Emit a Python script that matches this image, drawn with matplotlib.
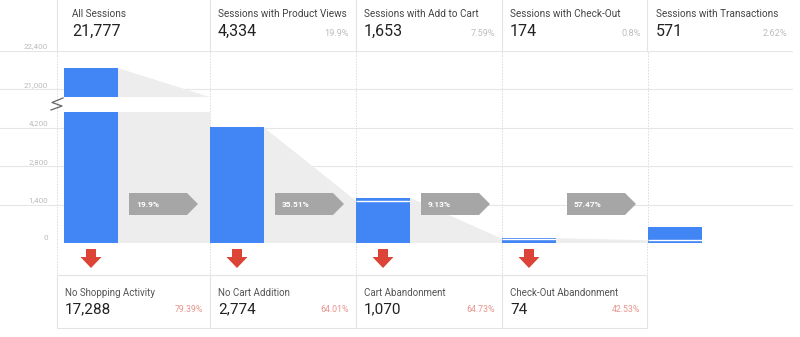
import numpy as np
import matplotlib
matplotlib.use('Agg')
import matplotlib.pyplot as plt
from matplotlib.patches import Polygon, Rectangle
from matplotlib.ticker import FixedLocator, FixedFormatter
import matplotlib.transforms as mtransforms

plt.rcParams['font.family'] = ['Roboto', 'DejaVu Sans']

# ---------------- data ----------------
steps = ["All Sessions", "Sessions with Product Views", "Sessions with Add to Cart",
         "Sessions with Check-Out", "Sessions with Transactions"]
step_values = [21777, 4334, 1653, 174, 571]
step_labels = ["21,777", "4,334", "1,653", "174", "571"]
step_pcts = ["", "19.9%", "7.59%", "0.8%", "2.62%"]
continued = [21777, 4334, 1539, 151, 100]
conv_rates = ["19.9%", "35.51%", "9.13%", "57.47%"]
drop_names = ["No Shopping Activity", "No Cart Addition", "Cart Abandonment", "Check-Out Abandonment"]
drop_values = ["17,288", "2,774", "1,070", "74"]
drop_pcts = ["79.39%", "64.01%", "64.73%", "42.53%"]
ytick_values = [0, 1400, 2800, 4200, 21000, 22400]
ytick_labels = ["0", "1,400", "2,800", "4,200", "21,000", "22,400"]

# ---------------- styles ----------------
BLUE = '#4285F4'
FUNNEL = '#EDEDED'
GRID = '#E6E6E6'
ARROW_GRAY = '#A6A6A6'
RED = '#DB4437'

W, H = 800, 337
fig = plt.figure(figsize=(W / 100, H / 100), dpi=100)

# broken axis scale
LOW, HIGH, STEP = 4200.0, 21000.0, 1400.0


def fwd(v):
    v = np.asarray(v, dtype=float)
    return np.where(v <= LOW, v / STEP,
                    np.where(v >= HIGH, 4 + (v - HIGH) / STEP, 3 + (v - LOW) / (HIGH - LOW)))


def inv(p):
    p = np.asarray(p, dtype=float)
    return np.where(p <= 3, p * STEP,
                    np.where(p >= 4, HIGH + (p - 4) * STEP, LOW + (p - 3) * (HIGH - LOW)))


# main axes: px x 0..793, y 51..243
ax_top, ax_bot = 51, 243
ax = fig.add_axes([0, (H - ax_bot) / H, 793 / W, (ax_bot - ax_top) / H])
ax.set_yscale('function', functions=(fwd, inv))
ax.set_ylim(0, 22400)
col_px = 146.0
bar_left0 = 64.0
ax.set_xlim((0 - bar_left0) / col_px, (793 - bar_left0) / col_px)
for s in ax.spines.values():
    s.set_visible(False)
ax.set_xticks([])
ax.yaxis.set_major_locator(FixedLocator(ytick_values))
ax.yaxis.set_major_formatter(FixedFormatter(ytick_labels))
ax.yaxis.set_minor_locator(FixedLocator([]))
ax.tick_params(axis='y', length=0, pad=-48 * 0.72, labelsize=5.8, labelcolor='#BBBBBB')
for lab in ax.get_yticklabels():
    lab.set_transform(lab.get_transform() + mtransforms.ScaledTranslation(0, 5 / 100, fig.dpi_scale_trans))
ax.grid(axis='y', color=GRID, lw=0.8)
ax.set_axisbelow(True)

x = np.arange(len(step_values))
bw = 54 / col_px
step_arr = np.array(step_values, dtype=float)
cont_arr = np.array(continued, dtype=float)

# dotted column separators
sep_x = [(57 - bar_left0) / col_px, 1, 2, 3, 4]
ax.vlines(sep_x, 0, 22400, colors='#DADADA', lw=0.7, linestyles=(0, (1.5, 1.5)), zorder=0.5)

# break limits
break_lo = float(inv(3.41))
break_hi = float(inv(3.80))

# funnel polygons
for i in range(len(step_values) - 1):
    xl = x[i] + bw
    xr = x[i + 1]
    tl = step_arr[i]
    tr = cont_arr[i + 1]
    if tl > break_hi:
        tr = break_hi
    ax.add_patch(Polygon([(xl, tl), (xr, tr), (xr, 0), (xl, 0)], closed=True,
                         facecolor=FUNNEL, edgecolor='none', zorder=1))

ax.bar(x, cont_arr, width=bw, align='edge', color=BLUE, zorder=2)
ax.bar(x, step_arr - cont_arr, bottom=cont_arr, width=bw, align='edge', color=BLUE, zorder=2)
for i in range(len(step_values)):
    if step_arr[i] > cont_arr[i]:
        ax.hlines(cont_arr[i], x[i], x[i] + bw, colors='white', lw=1.0, zorder=3)

# break band
ax.fill_between([x[0] - 0.01, x[1]], break_lo, break_hi, color='white', zorder=3, lw=0)

# ---------------- overlay (pixel coords) ----------------
ov = fig.add_axes([0, 0, 1, 1], zorder=5)
ov.set_xlim(0, W)
ov.set_ylim(H, 0)
ov.axis('off')

col_lines = [57, 210, 356, 502, 647]
# header vertical lines
for cx in col_lines:
    ov.plot([cx, cx], [0, 51], color='#E4E4E4', lw=0.8)
    ov.plot([cx, cx], [243, 275], color='#DADADA', lw=0.7, ls=(0, (1.5, 1.5)))

# header texts
for i in range(len(steps)):
    left = bar_left0 + col_px * i
    ov.text(left + 8, 14, steps[i], fontsize=7.2, color='#444444', va='center', ha='left')
    ov.text(left + 8, 31, step_labels[i], fontsize=11.5, color='#222222', va='center', ha='left')
    if step_pcts[i]:
        ov.text(left + col_px - 7, 33, step_pcts[i], fontsize=6.6, color='#BDBDBD', va='center', ha='right')

# conversion arrows
for i, r in enumerate(conv_rates):
    L = bar_left0 + col_px * i + 65
    ov.add_patch(Polygon([(L, 193), (L + 58, 193), (L + 69, 204), (L + 58, 215), (L, 215)],
                         closed=True, facecolor=ARROW_GRAY, edgecolor='none'))
    ov.text(L + 7, 204.5, r, fontsize=6, color='white', fontweight='bold', va='center', ha='left')

# red drop arrows
for i in range(len(drop_names)):
    cx = bar_left0 + col_px * i + 27
    ov.add_patch(Polygon([(cx - 5, 249), (cx + 5, 249), (cx + 5, 257), (cx + 10.5, 257),
                          (cx, 268), (cx - 10.5, 257), (cx - 5, 257)],
                         closed=True, facecolor=RED, edgecolor='none'))

# drop-off cards
ov.add_patch(Rectangle((57, 275), 647 - 57, 328 - 275, facecolor='white', edgecolor='#E3E3E3', lw=0.8))
for cx in col_lines[1:-1]:
    ov.plot([cx, cx], [275, 328], color='#E3E3E3', lw=0.8)
for i in range(len(drop_names)):
    cl = col_lines[i]
    cr = col_lines[i + 1]
    ov.text(cl + 8, 293, drop_names[i], fontsize=7, color='#555555', va='center', ha='left')
    ov.text(cl + 8, 309.5, drop_values[i], fontsize=11, color='#222222', va='center', ha='left')
    ov.text(cr - 7, 310, drop_pcts[i], fontsize=6.3, color='#E8958E', va='center', ha='right')

# axis break symbol
ov.plot([63, 52, 62, 51], [98, 102.5, 106, 110], color='#666666', lw=0.9)

fig.savefig('out.png', dpi=100)
